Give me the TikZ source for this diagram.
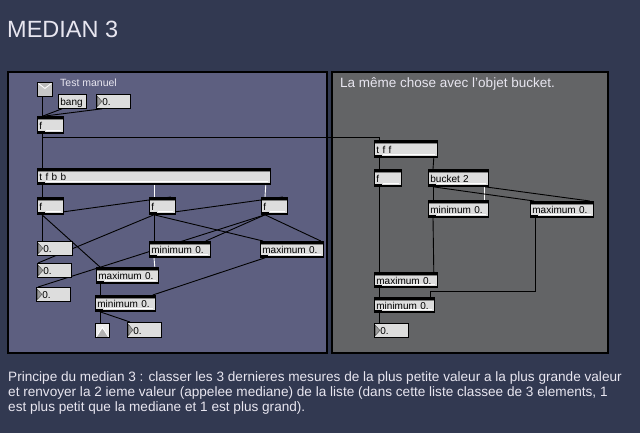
\documentclass[tikz,border=0pt]{standalone}
\usepackage{fontspec}
\setmainfont{Liberation Sans}
\definecolor{bgcol}{RGB}{50,57,81}
\definecolor{leftpanel}{RGB}{93,95,128}
\definecolor{rightpanel}{RGB}{99,100,102}
\definecolor{objgrey}{RGB}{221,221,221}
\definecolor{txtcol}{RGB}{232,230,240}
\definecolor{btngrey}{RGB}{200,200,200}
\pgfdeclarelayer{bg}
\pgfdeclarelayer{cords}
\pgfsetlayers{bg,cords,main}
\newcommand\mobj[7]{%
  \pgfmathsetmacro\mobjw{#5-#3-4}%
  \pgfmathsetmacro\mobjh{#6-#4}%
  \node[#1, text width=\mobjw pt, minimum height=\mobjh pt] (#2) at (#3,#4) {#7};}
\tikzset{
  cord/.style={line width=0.9pt, black},
  wcord/.style={line width=0.9pt, white},
  panel/.style={draw=black, line width=2pt},
  mbase/.style={draw=black, line width=0.8pt, fill=objgrey, anchor=north west,
    inner xsep=2pt, inner ysep=0pt, align=left, text=black,
    font=\fontsize{10}{11}\selectfont, text height=8.5pt, text depth=0pt},
  objbox/.style={mbase, path picture={
    \fill[black] (path picture bounding box.north west) rectangle ([yshift=-2.2pt]path picture bounding box.north east);
    \draw[gray, line width=0.6pt] ([yshift=-2.8pt]path picture bounding box.north west) -- ([yshift=-2.8pt]path picture bounding box.north east);
    \fill[black] (path picture bounding box.south west) rectangle ([yshift=1.6pt]path picture bounding box.south east);
    \fill[black] (path picture bounding box.south west) rectangle ([yshift=2.6pt,xshift=8pt]path picture bounding box.south west);
    \draw[white, line width=0.7pt] ([yshift=2.6pt,xshift=9pt]path picture bounding box.south west) -- ([yshift=2.6pt,xshift=-2pt]path picture bounding box.south east);
  }},
  msgbox/.style={mbase},
  numbox/.style={mbase, path picture={
    \fill[gray!80, draw=gray!60!black, line width=0.4pt] ([xshift=1pt,yshift=-2pt]path picture bounding box.north west) -- ([xshift=5.5pt]path picture bounding box.west) -- ([xshift=1pt,yshift=2pt]path picture bounding box.south west) -- cycle;
  }},
  btndown/.style={mbase, fill=btngrey, path picture={
    \fill[gray!55] ([xshift=1pt,yshift=-1pt]path picture bounding box.north west) -- ([xshift=-1pt,yshift=-1pt]path picture bounding box.north east) -- ([yshift=1pt]path picture bounding box.center) -- cycle;
    \draw[white, line width=0.9pt] ([xshift=1pt,yshift=-1pt]path picture bounding box.north west) -- ([yshift=1pt]path picture bounding box.center) -- ([xshift=-1pt,yshift=-1pt]path picture bounding box.north east);
  }},
  btnup/.style={mbase, fill=gray!15, path picture={
    \fill[gray!60] (path picture bounding box.south west) -- ([yshift=3pt]path picture bounding box.center) -- (path picture bounding box.south east) -- cycle;
    \draw[white, line width=0.9pt] ([xshift=0.5pt]path picture bounding box.south west) -- ([yshift=3pt]path picture bounding box.center) -- ([xshift=-0.5pt]path picture bounding box.south east);
  }},
  lbl/.style={text=txtcol, inner sep=0pt, anchor=base west}
}
\begin{document}
\begin{tikzpicture}[x=1pt,y=-1pt]
\begin{pgfonlayer}{bg}
\fill[bgcol] (0,0) rectangle (640,433);
\fill[leftpanel] (8,72) rectangle (327,353);
\draw[panel] (8,72) rectangle (327,353);
\fill[rightpanel] (332,72) rectangle (608,353);
\draw[panel] (332,72) rectangle (608,353);
\end{pgfonlayer}
\useasboundingbox (0,0) rectangle (640,433);

\node[lbl, font=\fontsize{23.5}{28}\selectfont] (title) at (7,38) {MEDIAN 3};
\node[lbl, font=\fontsize{10.5}{12}\selectfont] (testlbl) at (60,87) {Test manuel};
\node[lbl, font=\fontsize{13.5}{15}\selectfont] (rightlbl) at (340,88) {La même chose avec l'objet bucket.};
\node[text=txtcol, inner sep=0pt, anchor=north west, align=left, font=\fontsize{13.6}{15}\selectfont] (desc) at (8,371.5)
 {Principe du median 3 : classer les 3 dernieres mesures de la plus petite valeur a la plus grande valeur\\
  et renvoyer la 2 ieme valeur (appelee mediane) de la liste (dans cette liste classee de 3 elements, 1\\
  est plus petit que la mediane et 1 est plus grand).};

% left panel objects
\mobj{btndown}{btn1}{37}{82}{52}{96}{}
\mobj{msgbox}{bangmsg}{58}{94}{86}{108}{bang}
\mobj{numbox}{num0}{96}{94}{130}{108}{\hspace*{4pt}0.}
\mobj{objbox}{fA}{37}{116}{63}{133}{f}
\mobj{objbox}{tfbb}{37}{168}{270}{184}{t f b b}
\mobj{objbox}{f1}{37}{197}{63}{214}{f}
\mobj{objbox}{f2}{149}{197}{175}{214}{f}
\mobj{objbox}{f3}{261}{197}{287}{214}{f}
\mobj{numbox}{n1}{37}{241}{72}{255}{\hspace*{4pt}0.}
\mobj{numbox}{n2}{37}{263}{71}{277}{\hspace*{4pt}0.}
\mobj{numbox}{n3}{36}{287}{70}{301}{\hspace*{4pt}0.}
\mobj{objbox}{min1}{149}{241}{210}{257}{minimum 0.}
\mobj{objbox}{max1}{260}{241}{323}{257}{maximum 0.}
\mobj{objbox}{max2}{96}{267}{158}{283}{maximum 0.}
\mobj{objbox}{min2}{95}{295}{155}{311}{minimum 0.}
\mobj{btnup}{btn2}{95}{323}{109}{337}{}
\mobj{numbox}{n4}{127}{322}{161}{337}{\hspace*{4pt}0.}

% right panel objects
\mobj{objbox}{tff}{374}{140}{437}{157}{t f f}
\mobj{objbox}{fB}{374}{169}{401}{186}{f}
\mobj{objbox}{bucket}{428}{169}{488}{186}{bucket 2}
\mobj{objbox}{min3}{428}{200}{488}{217}{minimum 0.}
\mobj{objbox}{max3}{530}{201}{593}{217}{maximum 0.}
\mobj{objbox}{max4}{374}{272}{437}{287}{maximum 0.}
\mobj{objbox}{min4}{374}{297}{434}{312}{minimum 0.}
\mobj{numbox}{n5}{374}{323}{408}{337}{\hspace*{4pt}0.}

\begin{pgfonlayer}{cords}
% left
\draw[cord] ([xshift=5pt]btn1.south west) -- ([xshift=5pt]fA.north west);
\draw[cord] ([xshift=4pt]bangmsg.south west) -- ([xshift=6pt]fA.north west);
\draw[cord] ([xshift=6pt]num0.south west) -- ([xshift=8pt]fA.north west);
\draw[cord] ([xshift=5pt]fA.south west) -- ([xshift=5pt]tfbb.north west);
\draw[cord] ([xshift=5pt]fA.south west) -- ++(0,4) -| ([xshift=5pt]tff.north west);
\draw[cord] ([xshift=5pt]tfbb.south west) -- ([xshift=5pt]f1.north west);
\draw[wcord] ([xshift=117pt]tfbb.south west) -- ([xshift=5pt]f2.north west);
\draw[wcord] ([xshift=-5pt]tfbb.south east) -- ([xshift=4pt]f3.north west);
\draw[cord] ([xshift=5pt]f1.south west) -- ([xshift=-5pt]f2.north east);
\draw[cord] ([xshift=5pt]f2.south west) -- ([xshift=-5pt]f3.north east);
\draw[cord] ([xshift=5pt]f1.south west) -- ([xshift=5pt]n1.north west);
\draw[cord] ([xshift=5pt]f1.south west) -- ([xshift=4pt]max2.north west);
\draw[cord] ([xshift=5pt]f2.south west) -- ([xshift=1pt]n2.north west);
\draw[cord] ([xshift=5pt]f2.south west) -- ([xshift=5pt]min1.north west);
\draw[cord] ([xshift=5pt]f2.south west) -- ([xshift=3pt]max1.north west);
\draw[cord] ([xshift=4pt]f3.south west) -- ([xshift=-3pt]max1.north east);
\draw[cord] ([xshift=4pt]f3.south west) -- ([xshift=-5pt]min1.north east);
\draw[cord] ([xshift=4pt]f3.south west) -- ([xshift=2pt]n3.north west);
\draw[wcord] ([xshift=5pt]min1.south west) -- ([xshift=-4pt]max2.north east);
\draw[cord] ([xshift=5pt]max1.south west) -- ([xshift=-3pt]min2.north east);
\draw[cord] ([xshift=4pt]max2.south west) -- ([xshift=5pt]min2.north west);
\draw[cord] ([xshift=5pt]min2.south west) -- ([xshift=5pt]btn2.north west);
\draw[cord] ([xshift=5pt]min2.south west) -- ([xshift=3pt]n4.north west);
% right
\draw[cord] ([xshift=5pt]tff.south west) -- ([xshift=5pt]fB.north west);
\draw[cord] ([xshift=-4pt]tff.south east) -- ([xshift=5pt]bucket.north west);
\draw[cord] ([xshift=5pt]bucket.south west) -- ([xshift=5pt]min3.north west);
\draw[wcord] ([xshift=-4pt]bucket.south east) -- ([xshift=-4pt]min3.north east);
\draw[cord] ([xshift=5pt]bucket.south west) -- ([xshift=4pt]max3.north west);
\draw[cord] ([xshift=-4pt]bucket.south east) -- ([xshift=-4pt]max3.north east);
\draw[cord] ([xshift=5pt]fB.south west) -- ([xshift=5pt]max4.north west);
\draw[cord] ([xshift=5pt]min3.south west) -- ([xshift=-4pt]max4.north east);
\draw[cord] ([xshift=5pt]max3.south west) -- ++(0,74) -| ([xshift=-4pt]min4.north east);
\draw[cord] ([xshift=5pt]max4.south west) -- ([xshift=5pt]min4.north west);
\draw[cord] ([xshift=5pt]min4.south west) -- ([xshift=5pt]n5.north west);
\end{pgfonlayer}
\end{tikzpicture}
\end{document}
